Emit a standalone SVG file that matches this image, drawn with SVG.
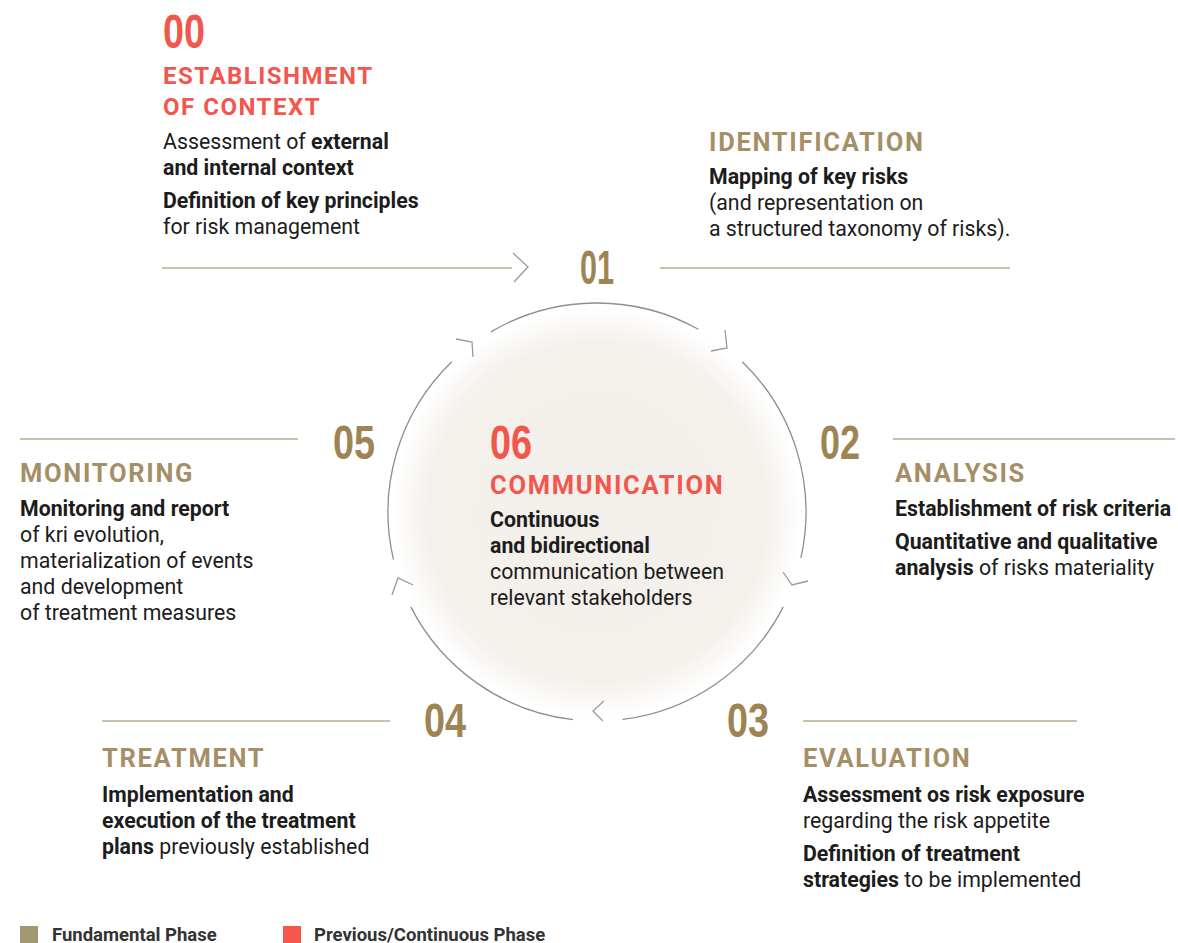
<svg xmlns="http://www.w3.org/2000/svg" width="1178" height="943" viewBox="0 0 1178 943">
<defs>
<radialGradient id="disk" cx="0.5" cy="0.5" r="0.5">
<stop offset="0" stop-color="#f3efea"/>
<stop offset="0.82" stop-color="#f4f0eb"/>
<stop offset="1" stop-color="#f4f0eb" stop-opacity="0"/>
</radialGradient>
<style>
.num{font-family:"Liberation Sans",Arial,sans-serif;font-weight:bold;font-size:48px}
.gold{fill:#9d8553}
.red{fill:#f0574c}
.head{font-family:Roboto,"Liberation Sans",sans-serif;font-weight:bold;font-size:25.5px;letter-spacing:1.7px}
.h0{font-size:24px;letter-spacing:1.5px}
.hg{fill:#a58f66}
.hr{fill:#f2564d}
.body{font-family:Roboto,"Liberation Sans",sans-serif;font-size:21.3px;fill:#1c1c1c}
.b{font-weight:bold}
.rule{stroke:#b7ad8f;stroke-width:1.5;fill:none}
.arc{stroke:#8e8e8e;stroke-width:1.3;fill:none}
.chev{stroke:#9a9a9a;stroke-width:1.3;fill:none;stroke-linejoin:miter}
.leg{font-family:Roboto,"Liberation Sans",sans-serif;font-size:18.5px;font-weight:bold;fill:#333}
</style>
</defs>
<rect width="1178" height="943" fill="#ffffff"/>
<circle cx="597" cy="512" r="205" fill="url(#disk)"/>

<g id="connectors">
<line class="rule" x1="162" y1="268" x2="512" y2="268"/>
<polyline class="chev" points="513,253 528,267 514,282"/>
<line class="rule" x1="660" y1="268" x2="1010" y2="268"/>
<line class="rule" x1="20" y1="439" x2="298" y2="439"/>
<line class="rule" x1="893" y1="439" x2="1175" y2="439"/>
<line class="rule" x1="102" y1="721" x2="390" y2="721"/>
<line class="rule" x1="803" y1="721" x2="1077" y2="721"/>
<path class="arc" d="M490.9,331.9 A209,209 0 0 1 698.3,329.2"/>
<path class="arc" d="M742.2,361.7 A209,209 0 0 1 800.9,557.9"/>
<path class="arc" d="M783.2,606.9 A209,209 0 0 1 622.5,719.4"/>
<path class="arc" d="M573,719.6 A209,209 0 0 1 410.8,606.9"/>
<path class="arc" d="M393.5,559.7 A209,209 0 0 1 451.8,361.7"/>
<polyline class="chev" points="456,339 472,342 473,357"/>
<polyline class="chev" points="725,330 727,348 711,351"/>
<polyline class="chev" points="783,572 792,585 808,581"/>
<polyline class="chev" points="604,701 593,711 603,721"/>
<polyline class="chev" points="413,585 398,578 392,595"/>
</g>

<g id="phase00">
<text class="num red" x="163" y="48" textLength="42" lengthAdjust="spacingAndGlyphs">00</text>
<text class="head h0 hr" x="163" y="84">ESTABLISHMENT</text>
<text class="head h0 hr" x="163" y="115">OF CONTEXT</text>
<text class="body" x="163" y="149">Assessment of <tspan class="b">external</tspan></text>
<text class="body b" x="163" y="175">and internal context</text>
<text class="body b" x="163" y="208">Definition of key principles</text>
<text class="body" x="163" y="234">for risk management</text>
</g>

<g id="phase01">
<text class="num gold" x="580" y="284" textLength="34" lengthAdjust="spacingAndGlyphs">01</text>
<text class="head hg" x="709" y="151">IDENTIFICATION</text>
<text class="body b" x="709" y="184">Mapping of key risks</text>
<text class="body" x="709" y="210">(and representation on</text>
<text class="body" x="709" y="236">a structured taxonomy of risks).</text>
</g>

<g id="phase02">
<text class="num gold" x="820" y="459" textLength="40" lengthAdjust="spacingAndGlyphs">02</text>
<text class="head hg" x="895" y="482">ANALYSIS</text>
<text class="body b" x="895" y="516">Establishment of risk criteria</text>
<text class="body b" x="895" y="549">Quantitative and qualitative</text>
<text class="body" x="895" y="575"><tspan class="b">analysis</tspan> of risks materiality</text>
</g>

<g id="phase03">
<text class="num gold" x="727" y="737" textLength="42" lengthAdjust="spacingAndGlyphs">03</text>
<text class="head hg" x="803" y="767">EVALUATION</text>
<text class="body b" x="803" y="802">Assessment os risk exposure</text>
<text class="body" x="803" y="828">regarding the risk appetite</text>
<text class="body b" x="803" y="861">Definition of treatment</text>
<text class="body" x="803" y="887"><tspan class="b">strategies</tspan> to be implemented</text>
</g>

<g id="phase04">
<text class="num gold" x="424" y="737" textLength="42" lengthAdjust="spacingAndGlyphs">04</text>
<text class="head hg" x="102" y="767">TREATMENT</text>
<text class="body b" x="102" y="802">Implementation and</text>
<text class="body b" x="102" y="828">execution of the treatment</text>
<text class="body" x="102" y="854"><tspan class="b">plans</tspan> previously established</text>
</g>

<g id="phase05">
<text class="num gold" x="333" y="459" textLength="42" lengthAdjust="spacingAndGlyphs">05</text>
<text class="head hg" x="20" y="482">MONITORING</text>
<text class="body b" x="20" y="516">Monitoring and report</text>
<text class="body" x="20" y="542">of kri evolution,</text>
<text class="body" x="20" y="568">materialization of events</text>
<text class="body" x="20" y="594">and development</text>
<text class="body" x="20" y="620">of treatment measures</text>
</g>

<g id="phase06">
<text class="num red" x="490" y="459" textLength="42" lengthAdjust="spacingAndGlyphs">06</text>
<text class="head hr" x="490" y="494">COMMUNICATION</text>
<text class="body b" x="490" y="527">Continuous</text>
<text class="body b" x="490" y="553">and bidirectional</text>
<text class="body" x="490" y="579">communication between</text>
<text class="body" x="490" y="605">relevant stakeholders</text>
</g>

<g id="legend">
<rect x="20" y="926" width="18" height="17" fill="#a09870"/>
<text class="leg" x="52" y="941">Fundamental Phase</text>
<rect x="283" y="926" width="18" height="17" fill="#f5574c"/>
<text class="leg" x="314" y="941">Previous/Continuous Phase</text>
</g>
</svg>
